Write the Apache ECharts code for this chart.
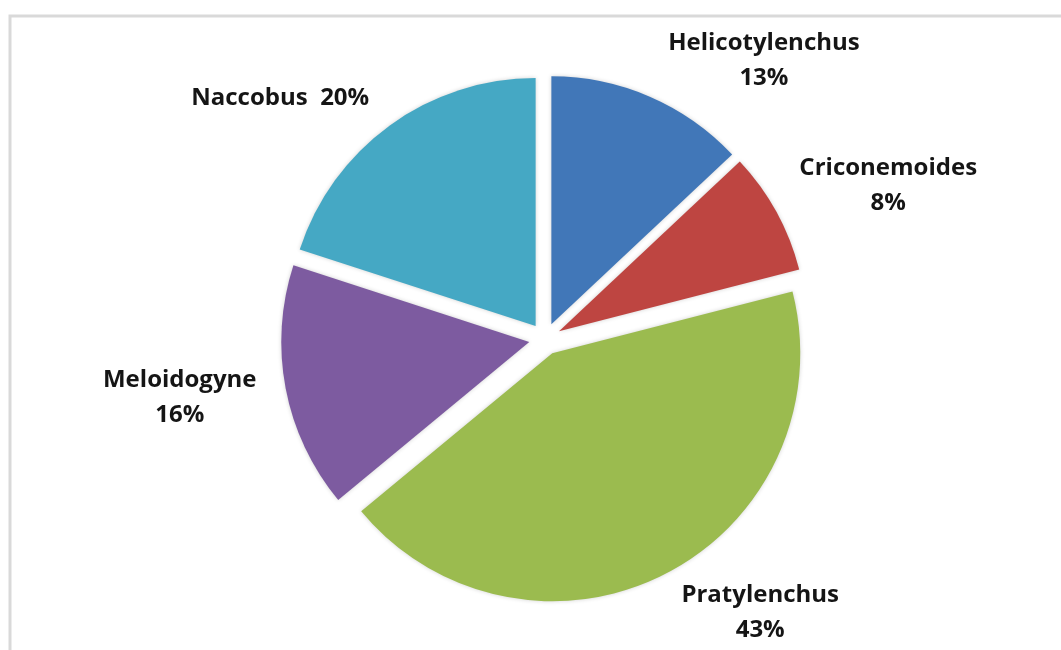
<!DOCTYPE html>
<html><head><meta charset="utf-8">
<script src="https://cdn.jsdelivr.net/npm/echarts@6/dist/echarts.min.js"></script>
<style>html,body{margin:0;padding:0;background:#fff}#c{width:1061px;height:650px}</style>
</head><body><div id="c"></div>
<script>
const categories = ['Helicotylenchus', 'Criconemoides', 'Pratylenchus', 'Meloidogyne', 'Naccobus'];
const values = [13, 8, 43, 16, 20];

const colors = ['#4177B8', '#BE4541', '#9BBB4F', '#7D5BA0', '#45A8C4'];
const CX = 545, CY = 339, R = 248, EXPLODE = 16;
const labelTurn = [14.8, 4.7, -11.2, 1.6, -11.7];
const labelDist = [354, 376, 348, 370, 358];
const total = values.reduce((a, b) => a + b, 0);
const mids = []; let cum = 0;
values.forEach(v => { mids.push((cum + v / 2) / total * 360); cum += v; });

const chart = echarts.init(document.getElementById('c'), null, {renderer: 'canvas'});
const txt = {fontFamily: 'Open Sans', fontWeight: 'bold', fontSize: 24, lineHeight: 35,
  color: '#151515', width: 240, align: 'center'};
chart.setOption({
  animation: false,
  backgroundColor: '#ffffff',
  graphic: [{type: 'rect', silent: true, shape: {x: 10, y: 16, width: 1100, height: 700},
    style: {fill: 'none', stroke: '#d9d9d9', lineWidth: 3}}],
  series: [{
    type: 'pie',
    center: [CX, CY],
    radius: R,
    startAngle: 90,
    clockwise: true,
    selectedMode: 'multiple',
    selectedOffset: EXPLODE,
    percentPrecision: 0,
    emphasis: {disabled: true},
    data: categories.map((n, i) => {
      const d = {name: n, value: values[i], selected: true, itemStyle: {color: colors[i]}};
      if (i === 4) d.label = {formatter: '{c|{b}  {d}%}'};
      return d;
    }),
    itemStyle: {shadowBlur: 4, shadowColor: 'rgba(0,0,0,0.18)'},
    label: {show: true, position: 'outside', formatter: '{c|{b}}\n{c|{d}%}',
      fontFamily: 'Open Sans', fontWeight: 'bold', fontSize: 24, color: '#151515',
      rich: {c: txt}},
    labelLine: {show: false},
    labelLayout: function (p) {
      const i = p.dataIndex;
      const a = (mids[i] + labelTurn[i]) * Math.PI / 180;
      const m = mids[i] * Math.PI / 180;
      const tx = CX + labelDist[i] * Math.sin(a) - EXPLODE * Math.sin(m);
      const ty = CY - labelDist[i] * Math.cos(a) + EXPLODE * Math.cos(m);
      const r = p.labelRect;
      return {dx: tx - (r.x + r.width / 2), dy: ty - (r.y + r.height / 2)};
    }
  }]
});
</script></body></html>
